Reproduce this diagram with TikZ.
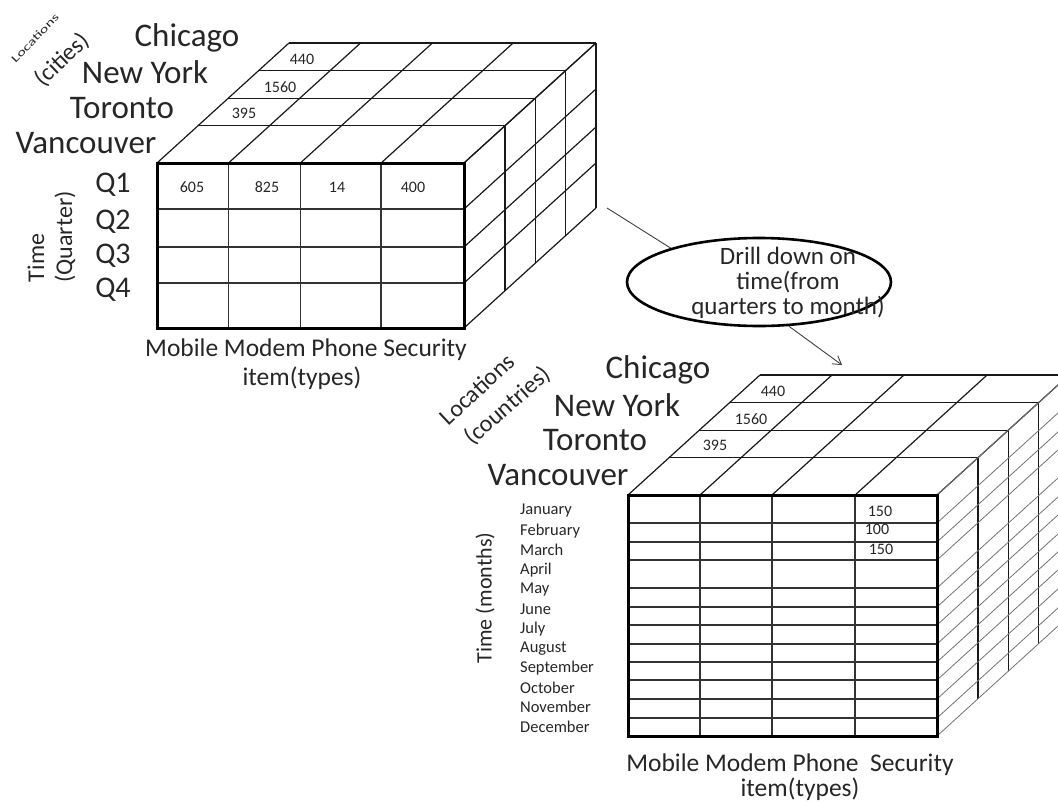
\documentclass[tikz,border=0pt]{standalone}
\usepackage{fontspec}
\setmainfont{Carlito}
\usetikzlibrary{shapes.geometric,arrows.meta}

\begin{document}
\begin{tikzpicture}[x=1pt,y=-1pt,
  edge/.style={line width=1.2pt, black!90},
  faint/.style={line width=0.8pt, black!55},
  inner/.style={line width=1.4pt, black!80},
  border/.style={line width=3pt, black},
  lbl/.style={inner sep=0pt, text=black!85},
  city/.style={lbl, font=\fontsize{33}{36}\selectfont},
  axis/.style={lbl, font=\fontsize{24}{26}\selectfont},
  quarter/.style={lbl, font=\fontsize{30}{32}\selectfont},
  item/.style={lbl, font=\fontsize{25.5}{28}\selectfont},
  val/.style={lbl, font=\fontsize{16}{18}\selectfont},
  month/.style={lbl, anchor=west, font=\fontsize{16.5}{18}\selectfont},
  bubble/.style={lbl, align=center, font=\fontsize{25}{25}\selectfont},
  conn/.style={line width=0.9pt, black!75}]

\path[use as bounding box] (0,0) rectangle (1058,803);
\clip (0,0) rectangle (1058,803);

% ---------- quarterly cube ----------
\begin{scope}[shift={(157,163)}]
  % top face
  \foreach \d in {0.31,0.54,0.77,1}
    \draw[edge] (\d*132,-\d*120) -- (307+\d*132,-\d*120);
  \foreach \c in {0,0.233,0.467,0.73,1}
    \draw[edge] (\c*307,0) -- ++(132,-120);
  % right face
  \foreach \d in {0.31,0.54,0.77,1}
    \draw[edge] (307+\d*132,-\d*120) -- ++(0,165);
  \foreach \r in {0,46,84,120,165}
    \draw[edge] (307,\r) -- ++(132,-120);
  % front face
  \foreach \c in {0.233,0.467,0.73}
    \draw[inner] (\c*307,0) -- (\c*307,165);
  \foreach \r in {46,84,120}
    \draw[inner] (0,\r) -- (307,\r);
  \draw[border] (0,0) rectangle (307,165);
\end{scope}

\node[lbl, rotate=46, font=\fontsize{11}{12}\selectfont] (lLoc) at (35,38) {\scalebox{1.5}[1]{Locations}};
\node[axis, rotate=44] (lCities) at (62,60) {(cities)};
\node[city] (lChicago) at (187,38) {Chicago};
\node[city] (lNewYork) at (145,72) {New York};
\node[city] (lToronto) at (122,108) {Toronto};
\node[city] (lVancouver) at (86,143) {Vancouver};

\node[val] (l440) at (302,59) {440};
\node[val] (l1560) at (280,87) {1560};
\node[val] (l395) at (244,113) {395};

\node[quarter] (q1) at (113,185) {Q1};
\node[quarter] (q2) at (113,222) {Q2};
\node[quarter] (q3) at (113,256) {Q3};
\node[quarter] (q4) at (113,290) {Q4};
\node[axis, rotate=90] (lTime) at (36,258) {Time};
\node[axis, rotate=90] (lQuarter) at (65,237) {(Quarter)};

\node[val] (v605) at (192,187) {605};
\node[val] (v825) at (267,187) {825};
\node[val] (v14) at (337,187) {14};
\node[val] (v400) at (413,187) {400};

\node[item] (lItems) at (306,350) {Mobile Modem Phone Security};
\node[item] (lTypes) at (302,378) {item(types)};

% ---------- monthly cube ----------
\begin{scope}[shift={(628,495)}]
  % top face
  \foreach \d in {0.31,0.54,0.77,1}
    \draw[edge] (\d*132,-\d*120) -- (309+\d*132,-\d*120);
  \foreach \c in {0,0.233,0.466,0.735,1}
    \draw[edge] (\c*309,0) -- ++(132,-120);
  % right face
  \foreach \d in {0.31,0.54,0.77,1}
    \draw[edge] (309+\d*132,-\d*120) -- ++(0,241);
  \foreach \r in {0,28,47,65,93,112,130,149,167,185,204,223,241}
    \draw[faint] (309,\r) -- ++(132,-120);
  % front face
  \foreach \c in {0.233,0.466,0.735}
    \draw[inner] (\c*309,0) -- (\c*309,241);
  \foreach \r in {28,47,65,93,112,130,149,167,185,204,223}
    \draw[inner] (0,\r) -- (309,\r);
  \draw[border] (0,0) rectangle (309,241);
\end{scope}

\node[axis, rotate=43] (rLoc) at (477,389) {Locations};
\node[axis, rotate=41] (rCountries) at (508,406) {(countries)};
\node[city] (rChicago) at (658,370) {Chicago};
\node[city] (rNewYork) at (617,405) {New York};
\node[city] (rToronto) at (595,440) {Toronto};
\node[city] (rVancouver) at (558,475) {Vancouver};

\node[val] (r440) at (773,391) {440};
\node[val] (r1560) at (751,419) {1560};
\node[val] (r395) at (715,445) {395};

\node[axis, rotate=90, font=\fontsize{22}{24}\selectfont] (rTime) at (485,598) {Time (months)};
\foreach \m [count=\i] in {January,February,March,April,May,June,July,August,September,October,November,December}
  \node[month] (m\i) at (520,{511+19.6*(\i-1)}) {\m};

\node[val] (s1) at (880,511) {150};
\node[val] (s2) at (877,529) {100};
\node[val] (s3) at (881,549) {150};

\node[item] (rItems) at (790,765) {Mobile Modem Phone\ \ Security};
\node[item] (rTypes) at (800,789) {item(types)};

% ---------- drill-down annotation ----------
\node[draw, ellipse, line width=2.6pt, minimum width=264pt, minimum height=88pt, inner sep=0pt] (drill) at (759,282) {};
\node[bubble] (drillText) at (788,283) {Drill down on\\time(from\\quarters to month)};

\coordinate (cubeEdge) at (607,208);
\coordinate (target) at (842,365);
\draw[conn] (cubeEdge) -- (drill.159);
\draw[conn, -{Straight Barb[length=8pt,width=10pt]}] (drill.-56) -- (target);

\end{tikzpicture}
\end{document}
